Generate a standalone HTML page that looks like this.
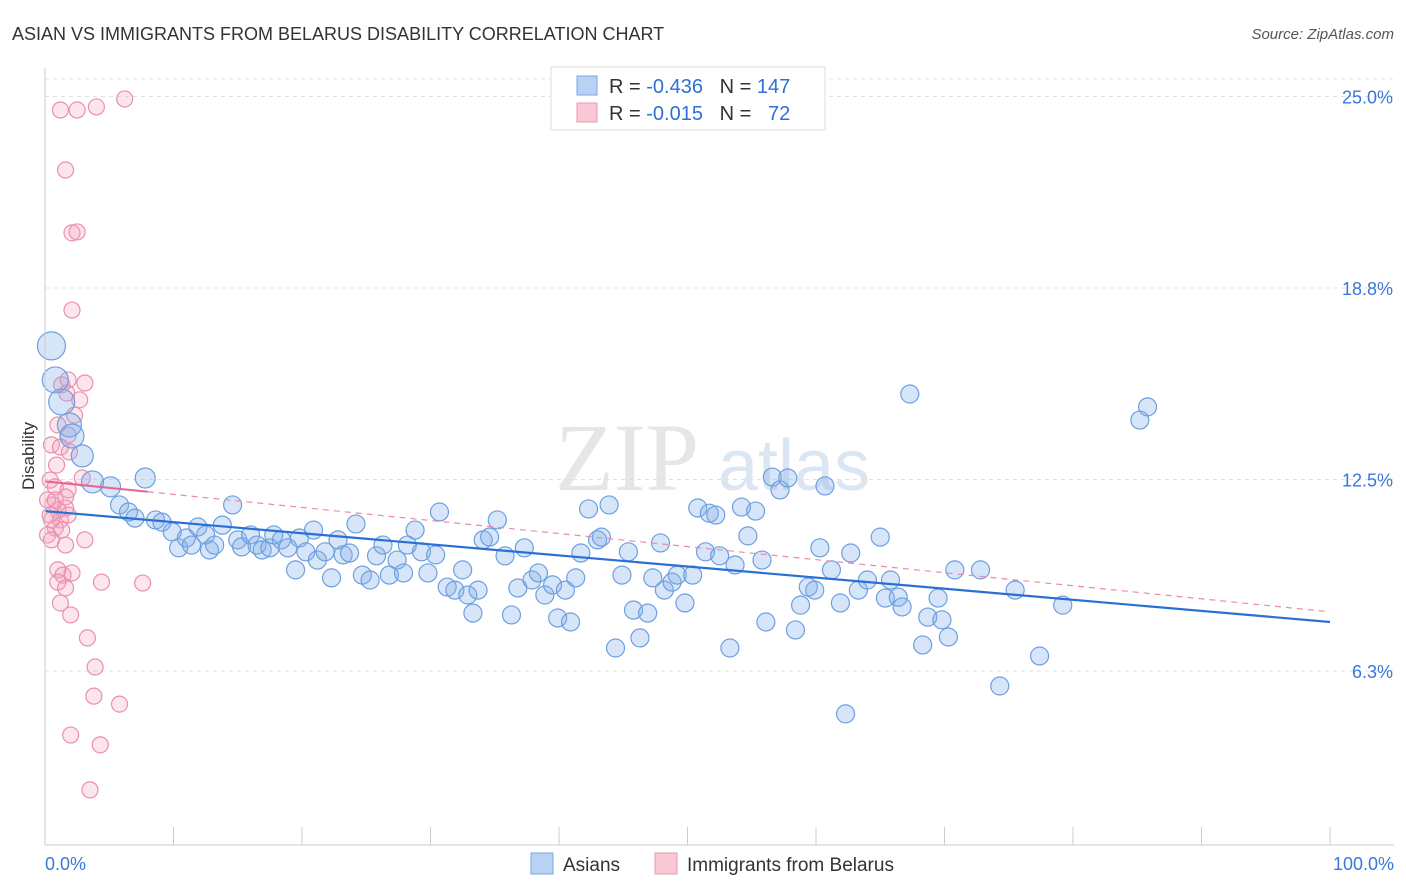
<!DOCTYPE html>
<html><head><meta charset="utf-8">
<style>
body{margin:0;background:#fff;font-family:"Liberation Sans",sans-serif;}
svg{display:block}
</style></head>
<body>
<svg id="chart" width="1406" height="892" xmlns="http://www.w3.org/2000/svg">
<text x="12" y="40" font-size="18" fill="#333">ASIAN VS IMMIGRANTS FROM BELARUS DISABILITY CORRELATION CHART</text>
<text x="1394" y="39" font-size="15" fill="#555" text-anchor="end" font-style="italic">Source: ZipAtlas.com</text>
<text x="555" y="490" font-size="96" fill="#e6e6e6" font-family="Liberation Serif,serif">ZIP</text>
<text x="718" y="490" font-size="72" fill="#dbe6f3">atlas</text>
<g id="grid"></g>
<g id="marks"></g>
<g id="axes"></g>
<text transform="translate(34,456) rotate(-90)" font-size="17" fill="#333" text-anchor="middle">Disability</text>
<g>
<rect x="551" y="67" width="274" height="63" fill="#fff" stroke="#ddd"/>
<rect x="577" y="76" width="20" height="19" fill="#b8d2f3" stroke="#7aa7e0"/>
<rect x="577" y="103" width="20" height="19" fill="#f9c9d6" stroke="#ea97b0"/>
<text x="609" y="93" font-size="20" fill="#333">R = <tspan fill="#2f6fd6">-0.436</tspan>&#160;&#160;&#160;N = <tspan fill="#2f6fd6">147</tspan></text>
<text x="609" y="120" font-size="20" fill="#333">R = <tspan fill="#2f6fd6">-0.015</tspan>&#160;&#160;&#160;N = &#160;&#160;<tspan fill="#2f6fd6">72</tspan></text>
</g>
<g>
<rect x="531" y="853" width="22" height="21" fill="#b8d2f3" stroke="#7aa7e0"/>
<text x="563" y="871" font-size="19" fill="#333">Asians</text>
<rect x="655" y="853" width="22" height="21" fill="#f9c9d6" stroke="#ea97b0"/>
<text x="687" y="871" font-size="19" fill="#333">Immigrants from Belarus</text>
</g>
</svg>
<script>
const yTicks=[6.25,12.5,18.75,25];
const yTickLabels=["6.3%","12.5%","18.8%","25.0%"];
const xTickLabels=["0.0%","100.0%"];
const asianX=[0.5,0.8,1.3,1.9,2.1,2.9,3.7,5.1,7.8,5.8,6.5,7.0,8.6,9.1,9.9,10.4,11.0,11.4,11.9,12.5,12.8,13.2,13.8,14.6,15.0,15.3,16.0,16.5,16.9,17.5,17.8,18.4,18.9,19.5,19.8,20.3,20.9,21.2,21.8,22.3,22.8,23.2,23.7,24.2,24.7,25.3,25.8,26.3,26.8,27.4,27.9,28.2,28.8,29.3,29.8,30.4,30.7,31.3,31.9,32.5,32.9,33.3,33.7,34.1,34.6,35.2,35.8,36.3,36.8,37.3,37.9,38.4,38.9,39.5,39.9,40.5,40.9,41.3,41.7,42.3,43.0,43.3,43.9,44.4,44.9,45.4,45.8,46.3,46.9,47.3,47.9,48.2,48.8,49.2,49.8,50.4,50.8,51.4,51.7,52.2,52.5,53.3,53.7,54.2,54.7,55.3,55.8,56.1,56.6,57.2,57.8,58.4,58.8,59.4,59.9,60.3,60.7,61.2,61.9,62.3,62.7,63.3,64.0,65.0,65.4,65.8,66.4,66.7,67.3,68.3,68.7,69.5,69.8,70.3,70.8,72.8,74.3,75.5,77.4,79.2,85.2,85.8];
const asianY=[16.86,15.75,15.03,14.28,13.92,13.27,12.42,12.26,12.55,11.67,11.44,11.24,11.18,11.11,10.79,10.27,10.59,10.36,10.95,10.69,10.2,10.36,11.01,11.67,10.53,10.3,10.69,10.36,10.2,10.27,10.69,10.53,10.27,9.55,10.59,10.14,10.85,9.87,10.14,9.29,10.53,10.04,10.1,11.05,9.38,9.22,10.01,10.36,9.38,9.87,9.45,10.36,10.85,10.14,9.45,10.04,11.44,8.99,8.89,9.55,8.73,8.14,8.89,10.53,10.62,11.18,10.01,8.08,8.96,10.27,9.22,9.45,8.73,9.06,7.98,8.89,7.85,9.29,10.1,11.54,10.53,10.62,11.67,7.0,9.38,10.14,8.24,7.33,8.14,9.29,10.43,8.89,9.15,9.38,8.47,9.38,11.57,10.14,11.4,11.34,10.01,7.0,9.71,11.6,10.66,11.47,9.87,7.85,12.58,12.16,12.55,7.59,8.4,8.99,8.89,10.27,12.29,9.55,8.47,4.85,10.1,8.89,9.22,10.62,8.63,9.22,8.66,8.34,15.29,7.1,8.01,8.63,7.92,7.36,9.55,9.55,5.76,8.89,6.74,8.4,14.44,14.87];
const asianSize=[14,13,13,12,12,11,11,10,10];
const belX=[1.2,2.5,4.0,6.2,1.6,2.1,2.5,2.1,1.3,1.8,3.1,1.7,2.7,2.3,1.0,1.8,0.5,1.2,1.9,0.9,2.9,0.4,0.8,1.8,0.2,0.6,1.0,1.6,0.4,1.2,1.8,0.8,0.2,1.3,0.5,1.6,3.1,1.0,1.4,2.1,1.0,1.6,4.4,7.6,1.2,2.0,3.3,3.9,3.8,5.8,2.0,4.3,3.5,0.8,1.6,0.5];
const belY=[24.56,24.56,24.66,24.92,22.6,20.55,20.58,18.03,15.59,15.75,15.65,15.32,15.1,14.6,14.28,13.95,13.63,13.56,13.4,12.97,12.55,12.48,12.26,12.16,11.83,11.67,11.5,11.57,11.34,11.18,11.34,10.92,10.69,10.85,10.53,10.36,10.53,9.55,9.38,9.45,9.15,8.96,9.15,9.12,8.47,8.08,7.33,6.38,5.43,5.17,4.16,3.84,2.37,11.83,11.93,11.18];
const asianTrend=[11.47,7.85];
const belTrend=[12.44,8.18];
const belSolidEnd=8;

const NS="http://www.w3.org/2000/svg";
const X0=45,X1=1330,YB=862.5,PX=191.5/6.25;
const xs=v=>X0+(X1-X0)*v/100;
const ys=v=>YB-v*PX;
function mk(tag,attrs,parent){const e=document.createElementNS(NS,tag);for(const k in attrs)e.setAttribute(k,attrs[k]);parent.appendChild(e);return e;}
const grid=document.getElementById('grid'),marks=document.getElementById('marks'),axes=document.getElementById('axes');
mk('line',{x1:45,y1:79,x2:1394,y2:79,stroke:'#e5e5e5','stroke-dasharray':'4,4'},grid);
yTicks.forEach((t,i)=>{
 const g=mk('line',{x1:45,y1:ys(t),x2:1394,y2:ys(t),stroke:'#e0e0e0','stroke-dasharray':'4,4'},grid);
 
 
 const l=mk('text',{x:1393,y:ys(t)+7,'font-size':18,fill:'#3a78d8','text-anchor':'end'},axes);
 l.textContent=yTickLabels[i];
 
 
});
const ax=mk('line',{x1:45,y1:845,x2:1394,y2:845,stroke:'#ccc'},axes);


const ay=mk('line',{x1:45,y1:68,x2:45,y2:845,stroke:'#ccc'},axes);


for(let i=1;i<=10;i++){const t=mk('line',{x1:xs(i*10),y1:827,x2:xs(i*10),y2:845,stroke:'#ccc'},axes);
 
 }
const xl0=mk('text',{x:45,y:870,'font-size':18,fill:'#3a78d8'},axes);xl0.textContent=xTickLabels[0];


const xl1=mk('text',{x:1394,y:870,'font-size':18,fill:'#3a78d8','text-anchor':'end'},axes);xl1.textContent=xTickLabels[1];



belX.forEach((x,i)=>{const c=mk('circle',{cx:xs(x),cy:ys(belY[i]),r:8,fill:'rgba(244,160,188,0.28)',stroke:'#eb8fae','stroke-width':1.2},marks);
 
 });
asianX.forEach((x,i)=>{const c=mk('circle',{cx:xs(x),cy:ys(asianY[i]),r:asianSize[i]||9,fill:'rgba(130,175,232,0.32)',stroke:'#6d9fe0','stroke-width':1.2},marks);
 
 });
const bt=v=>belTrend[0]+(belTrend[1]-belTrend[0])*v/100;
const pd=mk('line',{x1:xs(belSolidEnd),y1:ys(bt(belSolidEnd)),x2:xs(100),y2:ys(bt(100)),stroke:'#ea8aa9','stroke-width':1.2,'stroke-dasharray':'6,5'},marks);


const ps=mk('line',{x1:xs(0),y1:ys(bt(0)),x2:xs(belSolidEnd),y2:ys(bt(belSolidEnd)),stroke:'#e8638f','stroke-width':2},marks);


const at=mk('line',{x1:xs(0),y1:ys(asianTrend[0]),x2:xs(100),y2:ys(asianTrend[1]),stroke:'#2a6fd4','stroke-width':2.2},marks);


</script>
</body></html>
